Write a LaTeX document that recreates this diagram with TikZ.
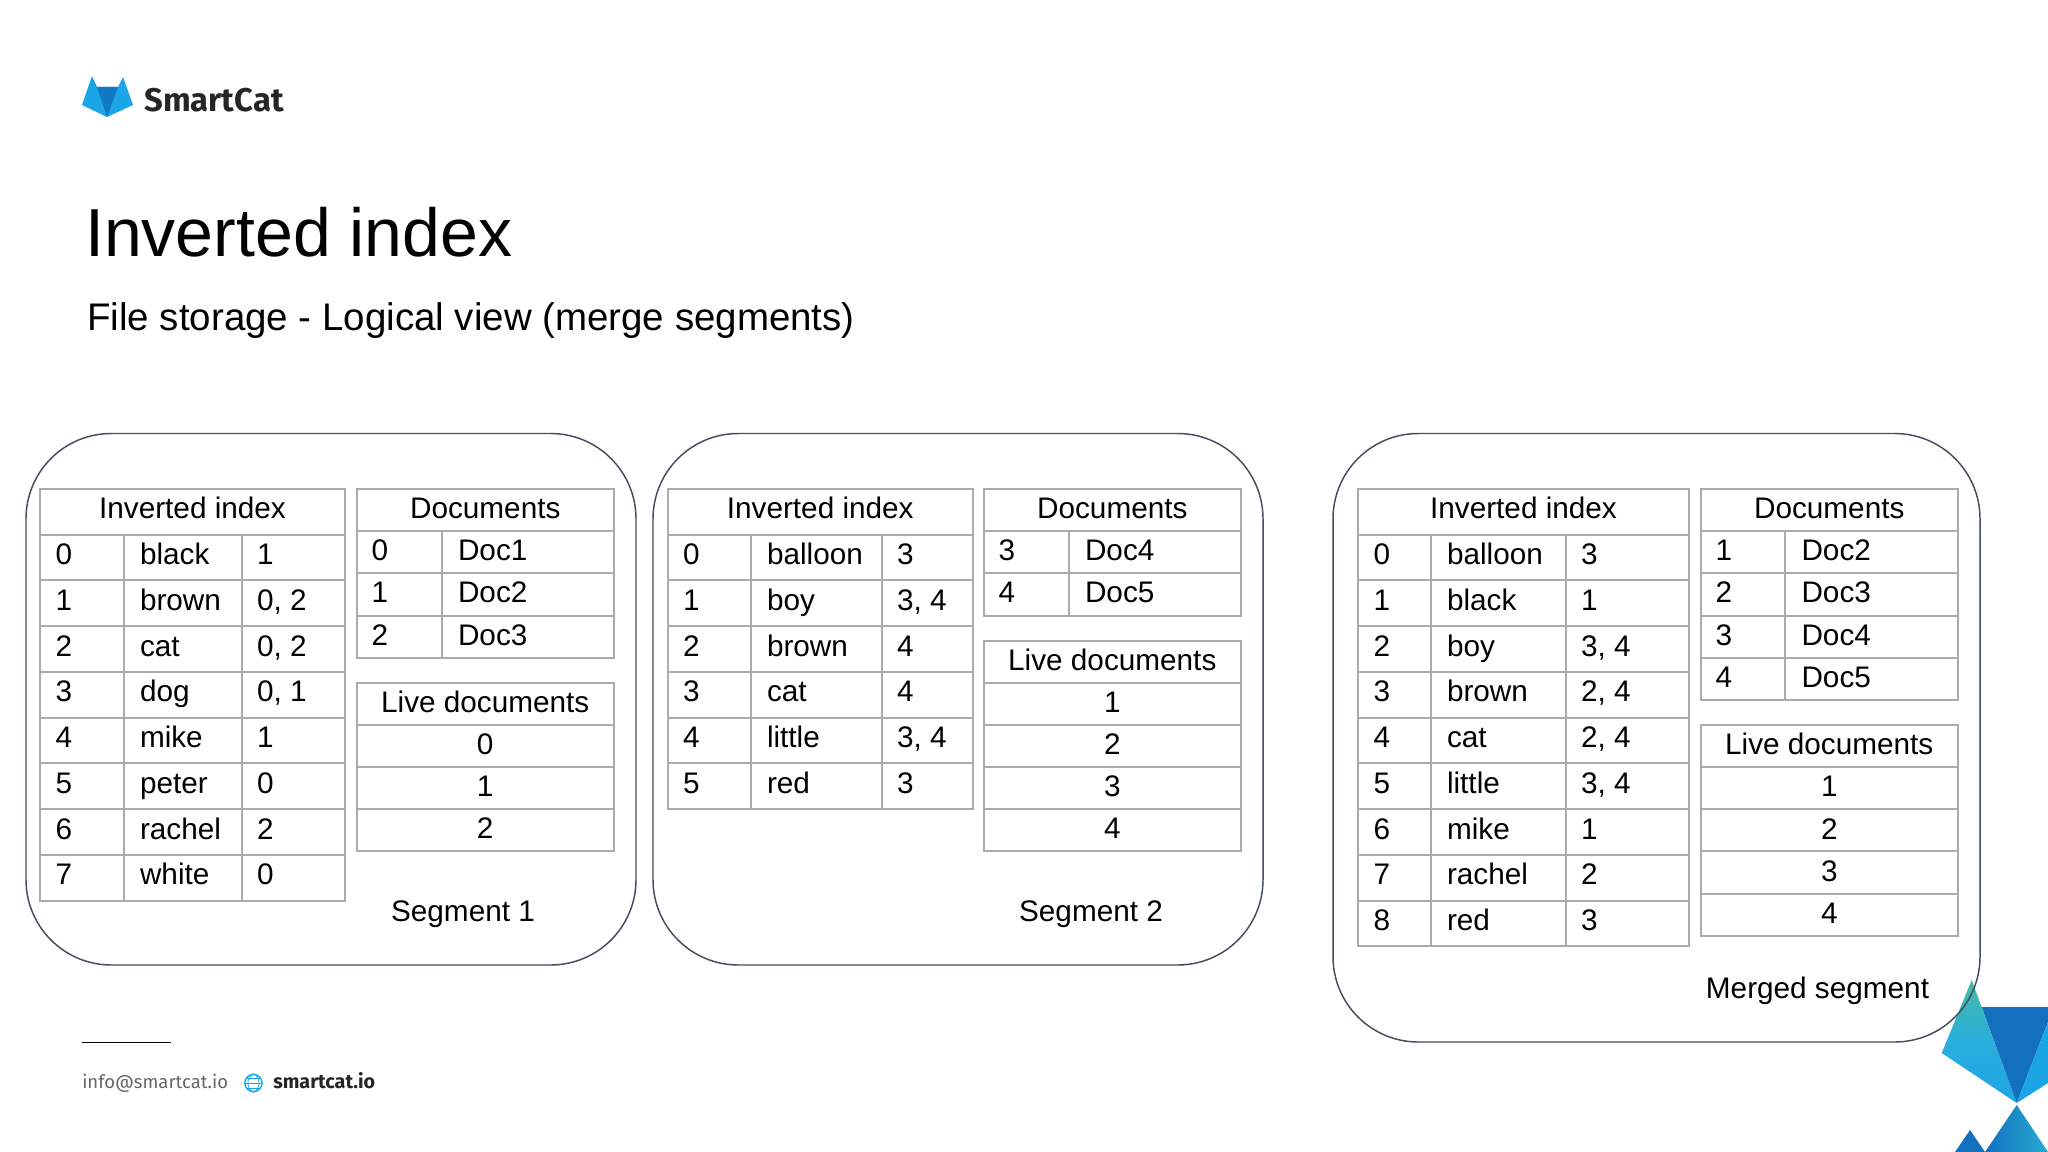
\documentclass[tikz,border=0pt]{standalone}
\usepackage{fontspec}
\setmainfont{Liberation Sans}
\newfontfamily\logofont{Fira Sans}
\definecolor{gridc}{HTML}{ABABAB}
\definecolor{framec}{HTML}{434E5E}
\definecolor{lblue}{HTML}{1AA5E6}
\definecolor{dblue}{HTML}{1270BE}
\definecolor{teal1}{HTML}{45BBA5}
\definecolor{mblue}{HTML}{2AAEDC}
\tikzset{
  gridline/.style={draw=gridc,line width=1.5pt},
  frame/.style={draw=framec,line width=1.1pt,rounded corners=64pt},
  cell/.style={anchor=base west,inner sep=0pt,outer sep=0pt,font=\fontsize{22.3}{27}\selectfont,text=black},
  ccell/.style={anchor=base,inner sep=0pt,outer sep=0pt,font=\fontsize{22.3}{27}\selectfont,text=black},
}
\newcommand{\invtable}[6]{% name,x0,x1,x2,x3,rows
  \draw[gridline] (#2,488.7) rectangle (#5,534.7);
  \node[ccell] (#1-head) at ({(#2+#5)/2},518.5) {Inverted index};
  \foreach \i/\w/\p [count=\n from 0] in {#6}{
    \pgfmathsetmacro\ty{534.7+\n*45.75}
    \draw[gridline] (#2,\ty) rectangle (#5,\ty+45.75);
    \draw[gridline] (#3,\ty) -- (#3,\ty+45.75);
    \draw[gridline] (#4,\ty) -- (#4,\ty+45.75);
    \node[cell] (#1-\n-a) at (#2+15.5,\ty+30) {\i};
    \node[cell] (#1-\n-b) at (#3+16,\ty+30) {\w};
    \node[cell] (#1-\n-c) at (#4+15,\ty+30) {\p};
  }
}
\newcommand{\doctable}[5]{% name,x0,x1,x2,rows
  \draw[gridline] (#2,488.7) rectangle (#4,531);
  \node[ccell] (#1-head) at ({(#2+#4)/2},518.5) {Documents};
  \foreach \i/\w [count=\n from 0] in {#5}{
    \pgfmathsetmacro\ty{531+\n*42.3}
    \draw[gridline] (#2,\ty) rectangle (#4,\ty+42.3);
    \draw[gridline] (#3,\ty) -- (#3,\ty+42.3);
    \node[cell] (#1-\n-a) at (#2+15,\ty+29.5) {\i};
    \node[cell] (#1-\n-b) at (#3+16.5,\ty+29.5) {\w};
  }
}
\newcommand{\livetable}[4]{% name,x0,x2,y0 ; rows follow
  \draw[gridline] (#2,#4) rectangle (#3,#4+42);
  \node[ccell] (#1-head) at ({(#2+#3)/2},#4+29.8) {Live documents};
}
\newcommand{\liverows}[5]{% name,x0,x2,y0,rows
  \foreach \v [count=\n from 0] in {#5}{
    \pgfmathsetmacro\ty{#4+42+\n*42.2}
    \draw[gridline] (#2,\ty) rectangle (#3,\ty+42.2);
    \node[ccell] (#1-\n) at ({(#2+#3)/2},\ty+29.8) {\v};
  }
}
\begin{document}
\begin{tikzpicture}[x=0.75pt,y=-0.75pt]
\useasboundingbox (0,0) rectangle (2048,1152);
\fill[white] (0,0) rectangle (2048,1152);

% logo
\fill[lblue] (82,105) -- (92,76) -- (97,87) -- (118,87) -- (123,77) -- (133,105) -- (107,117) -- cycle;
\fill[dblue!85!lblue] (97,87) -- (118,87) -- (107,117) -- cycle;
\node[anchor=base west,inner sep=0pt,font=\logofont\bfseries\fontsize{24.6}{28}\selectfont,text=black!85] (logotext) at (144,111.5) {SmartCat};

% title
\node[anchor=base west,inner sep=0pt,font=\fontsize{51}{60}\selectfont,text=black] (title) at (85,256) {Inverted index};
\node[anchor=base west,inner sep=0pt,font=\fontsize{28.85}{34}\selectfont,text=black] (subtitle) at (87,330.5) {File storage - Logical view (merge segments)};

% decoration
\begin{scope}
  \clip (1941.7,1053) -- (1971.7,980) -- (2016.7,1103) -- cycle;
  \shade[top color=teal1,bottom color=mblue] (1935,980) rectangle (2020,1040);
  \shade[top color=mblue,bottom color=lblue] (1935,1040) rectangle (2020,1104);
\end{scope}
\fill[dblue] (1981.7,1007) -- (2048,1007) -- (2048,1022) -- (2016.7,1103) -- cycle;
\fill[lblue] (2016.7,1103) -- (2048,1022) -- (2048,1083) -- cycle;
\shade[left color=dblue,right color=lblue!70!teal1] (2016.7,1105) -- (1985,1152) -- (2048,1152) -- cycle;
\fill[dblue] (1970,1130) -- (1955,1152) -- (1985,1152) -- cycle;

% frames
\draw[frame] (26,433.5) rectangle (636,965);
\draw[frame] (653,433.5) rectangle (1263,965);
\draw[frame] (1333,433.5) rectangle (1980,1042);

% segment 1
\invtable{a}{40}{124}{242}{345}{0/black/1,1/brown/{0, 2},2/cat/{0, 2},3/dog/{0, 1},4/mike/1,5/peter/0,6/rachel/2,7/white/0}
\doctable{ad}{356.5}{441.5}{614}{0/Doc1,1/Doc2,2/Doc3}
\livetable{al}{356.5}{614}{682.7}
\liverows{al}{356.5}{614}{682.7}{0,1,2}
\node[ccell] (seg1) at (463,921) {Segment 1};

% segment 2
\invtable{b}{667.5}{751}{882}{973}{0/balloon/3,1/boy/{3, 4},2/brown/4,3/cat/4,4/little/{3, 4},5/red/3}
\doctable{bd}{983.6}{1068.5}{1241}{3/Doc4,4/Doc5}
\livetable{bl}{983.6}{1241}{640.5}
\liverows{bl}{983.6}{1241}{640.5}{1,2,3,4}
\node[ccell] (seg2) at (1091,921) {Segment 2};

% merged
\invtable{c}{1358}{1431}{1566}{1689}{0/balloon/3,1/black/1,2/boy/{3, 4},3/brown/{2, 4},4/cat/{2, 4},5/little/{3, 4},6/mike/1,7/rachel/2,8/red/3}
\doctable{cd}{1700.5}{1785}{1958}{1/Doc2,2/Doc3,3/Doc4,4/Doc5}
\livetable{cl}{1700.5}{1958}{725}
\liverows{cl}{1700.5}{1958}{725}{1,2,3,4}
\node[ccell] (seg3) at (1817.5,998) {Merged segment};

% footer
\coordinate (rulea) at (82,1042.5);
\coordinate (ruleb) at (171,1042.5);
\draw[black,line width=1.1pt] (rulea) -- (ruleb);
\node[anchor=base west,inner sep=0pt,font=\logofont\fontsize{13.9}{16}\selectfont,text=black!60] (mail) at (82,1088) {info@smartcat.io};
\node[circle,draw=lblue,line width=1pt,minimum size=13pt,inner sep=0pt] (globe) at (253.5,1083) {};
\draw[lblue,line width=0.6pt] (globe.north) .. controls (246,1078) and (246,1088) .. (globe.south);
\draw[lblue,line width=0.6pt] (globe.north) .. controls (261,1078) and (261,1088) .. (globe.south);
\draw[lblue,line width=0.6pt] (globe.west) -- (globe.east);
\draw[lblue,line width=0.6pt] (247,1078) -- (260,1078);
\draw[lblue,line width=0.6pt] (247,1088) -- (260,1088);
\node[anchor=base west,inner sep=0pt,font=\logofont\bfseries\fontsize{14.8}{16}\selectfont,text=black!85] (site) at (273,1088.5) {smartcat.io};
\end{tikzpicture}
\end{document}
